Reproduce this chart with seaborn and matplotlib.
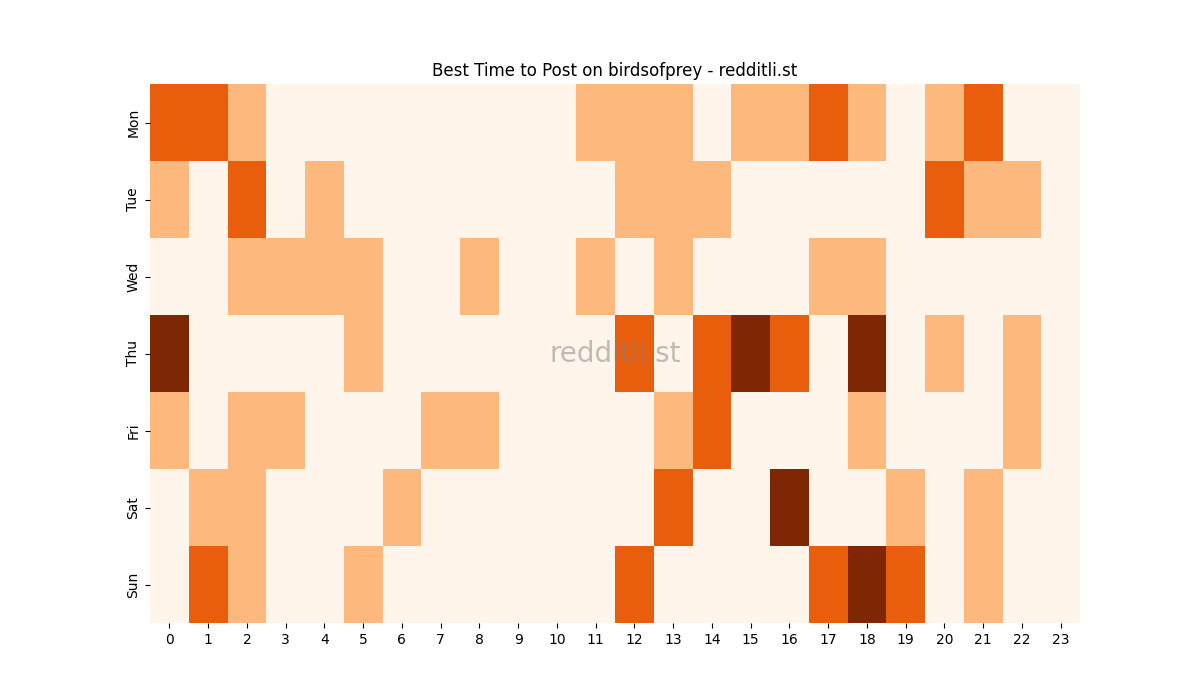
import matplotlib
matplotlib.use("Agg")
import matplotlib.pyplot as plt
import seaborn as sns
import pandas as pd

days = ["Mon", "Tue", "Wed", "Thu", "Fri", "Sat", "Sun"]
hours = list(range(24))

mon = [2, 2, 1, 0, 0, 0, 0, 0, 0, 0, 0, 1, 1, 1, 0, 1, 1, 2, 1, 0, 1, 2, 0, 0]
tue = [1, 0, 2, 0, 1, 0, 0, 0, 0, 0, 0, 0, 1, 1, 1, 0, 0, 0, 0, 0, 2, 1, 1, 0]
wed = [0, 0, 1, 1, 1, 1, 0, 0, 1, 0, 0, 1, 0, 1, 0, 0, 0, 1, 1, 0, 0, 0, 0, 0]
thu = [3, 0, 0, 0, 0, 1, 0, 0, 0, 0, 0, 0, 2, 0, 2, 3, 2, 0, 3, 0, 1, 0, 1, 0]
fri = [1, 0, 1, 1, 0, 0, 0, 1, 1, 0, 0, 0, 0, 1, 2, 0, 0, 0, 1, 0, 0, 0, 1, 0]
sat = [0, 1, 1, 0, 0, 0, 1, 0, 0, 0, 0, 0, 0, 2, 0, 0, 3, 0, 0, 1, 0, 1, 0, 0]
sun = [0, 2, 1, 0, 0, 1, 0, 0, 0, 0, 0, 0, 2, 0, 0, 0, 0, 2, 3, 2, 0, 1, 0, 0]

df = pd.DataFrame([mon, tue, wed, thu, fri, sat, sun], index=days, columns=hours)

fig, ax = plt.subplots(figsize=(12, 7), dpi=100)
sns.heatmap(df, cmap="Oranges", vmin=0, vmax=3, cbar=False, ax=ax)
ax.set_title("Best Time to Post on birdsofprey - redditli.st")
ax.set_xlabel("")
ax.set_ylabel("")
plt.setp(ax.get_yticklabels(), rotation=90, va="center")
plt.setp(ax.get_xticklabels(), rotation=0)
ax.text(0.5, 0.5, "redditli.st", transform=ax.transAxes, fontsize=20,
        color="gray", alpha=0.5, ha="center", va="center")
fig.savefig("out.png", dpi=100)
